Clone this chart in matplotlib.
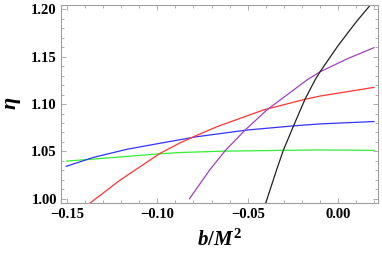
import matplotlib
matplotlib.use("Agg")
import matplotlib.pyplot as plt
from matplotlib.ticker import MultipleLocator, FuncFormatter

plt.rcParams["mathtext.fontset"] = "custom"
plt.rcParams["mathtext.it"] = "Liberation Serif:italic:bold"
plt.rcParams["mathtext.rm"] = "Liberation Serif:bold"
plt.rcParams["mathtext.bf"] = "Liberation Serif:italic:bold"

# Data
b_black = [-0.040, -0.034, -0.0304, -0.0245, -0.0184, -0.0129, -0.0101, 0.000, 0.010, 0.0179, 0.020]
eta_black = [0.996, 1.031, 1.051, 1.078, 1.105, 1.1253, 1.134, 1.162, 1.187, 1.205, 1.210]

b_purple = [-0.0822, -0.0708, -0.0625, -0.0515, -0.0395, -0.0174, -0.0101, 0.005, 0.0197]
eta_purple = [1.000, 1.031, 1.0507, 1.0725, 1.0937, 1.1253, 1.134, 1.1478, 1.1595]

b_red = [-0.1374, -0.1205, -0.0984, -0.0873, -0.0781, -0.0671, -0.0414, -0.0184, -0.0101, 0.0197]
eta_red = [0.995, 1.0197, 1.048, 1.0591, 1.0670, 1.0760, 1.0937, 1.105, 1.1084, 1.1176]

b_blue = [-0.1503, -0.1352, -0.1168, -0.0984, -0.0781, -0.0506, -0.0243, -0.0101, 0.0197]
eta_blue = [1.0342, 1.0437, 1.0522, 1.0586, 1.0655, 1.0725, 1.0770, 1.0790, 1.0815]

b_green = [-0.150, -0.137, -0.0984, -0.0873, -0.064, -0.0304, -0.0101, 0.0197]
eta_green = [1.0398, 1.0416, 1.0475, 1.0488, 1.0502, 1.0511, 1.0515, 1.0511]

series = [
    (b_green, eta_green, "#33EE33"),
    (b_blue, eta_blue, "#3333FF"),
    (b_red, eta_red, "#FF3333"),
    (b_purple, eta_purple, "#A040C0"),
    (b_black, eta_black, "#222222"),
]

fig = plt.figure(figsize=(3.82, 2.54), dpi=100)
ax = fig.add_axes([61 / 382, 1 - 202.7 / 254, (378.3 - 61) / 382, (202.7 - 4.7) / 254])

for x, y, c in series:
    ax.plot(x, y, color=c, lw=0.9)

ax.set_xlim(-0.1532, 0.0221)
ax.set_ylim(0.9958, 1.2049)

ax.xaxis.set_major_locator(MultipleLocator(0.05))
ax.xaxis.set_minor_locator(MultipleLocator(0.01))
ax.yaxis.set_major_locator(MultipleLocator(0.05))
ax.yaxis.set_minor_locator(MultipleLocator(0.01))
ax.xaxis.set_major_formatter(FuncFormatter(lambda v, p: ("\u2212" if v < -1e-9 else "") + f"{abs(v):.2f}"))
ax.yaxis.set_major_formatter(FuncFormatter(lambda v, p: f"{v:.2f}"))

frame_col = "#A0A0A0"
for s in ax.spines.values():
    s.set_color(frame_col)
    s.set_linewidth(0.8)

ax.tick_params(which="both", direction="in", top=True, right=True, color=frame_col, width=0.6)
ax.tick_params(which="major", length=3.5, pad=4)
ax.tick_params(which="minor", length=2.0)
ax.tick_params(axis="y", which="major", pad=3)

for lab in ax.get_xticklabels() + ax.get_yticklabels():
    lab.set_fontfamily("Liberation Serif")
    lab.set_fontweight("bold")
    lab.set_fontsize(10.5)

ax.set_xlabel(r"$b/M^2$", fontsize=15, labelpad=5)
ax.set_ylabel(r"$\eta$", fontsize=16, labelpad=6)

fig.savefig("out.png", dpi=100)
